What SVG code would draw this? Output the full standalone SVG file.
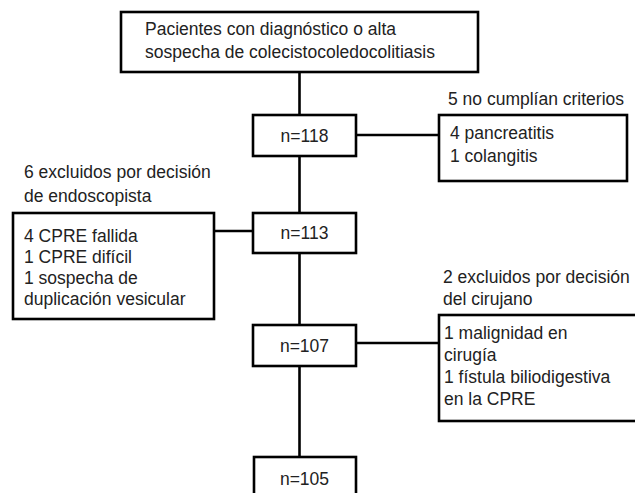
<svg xmlns="http://www.w3.org/2000/svg" width="635" height="493" viewBox="0 0 635 493">
<style>
.b{fill:#fff;stroke:#000;stroke-width:2.6}
.c{stroke:#000;stroke-width:2.6;fill:none}
text{font-family:"Liberation Sans",Arial,sans-serif;font-size:17.5px;fill:#222}
.m{text-anchor:middle}
</style>
<rect width="635" height="493" fill="#fff"/>
<g id="connectors">
<line class="c" x1="299.5" y1="72" x2="299.5" y2="457"/>
<line class="c" x1="356" y1="135" x2="439" y2="135"/>
<line class="c" x1="214" y1="231" x2="253" y2="231"/>
<line class="c" x1="356" y1="343" x2="439" y2="343"/>
</g>
<g id="top">
<rect class="b" x="121" y="12" width="357" height="60"/>
<text x="145" y="35">Pacientes con diagnóstico o alta</text>
<text x="145" y="58">sospecha de colecistocoledocolitiasis</text>
</g>
<g id="n118">
<rect class="b" x="253" y="115" width="103" height="41"/>
<text class="m" x="304.5" y="142">n=118</text>
</g>
<g id="excl1">
<text x="448" y="105">5 no cumplían criterios</text>
<rect class="b" x="439" y="115" width="188" height="66"/>
<text x="450" y="139">4 pancreatitis</text>
<text x="450" y="162">1 colangitis</text>
</g>
<g id="n113">
<rect class="b" x="253" y="213" width="103" height="40"/>
<text class="m" x="304.5" y="239">n=113</text>
</g>
<g id="excl2">
<text x="24" y="178">6 excluidos por decisión</text>
<text x="24" y="202">de endoscopista</text>
<rect class="b" x="13" y="213" width="201" height="106"/>
<text x="24" y="242">4 CPRE fallida</text>
<text x="24" y="263">1 CPRE difícil</text>
<text x="24" y="284">1 sospecha de</text>
<text x="24" y="305">duplicación vesicular</text>
</g>
<g id="n107">
<rect class="b" x="253" y="325" width="103" height="41"/>
<text class="m" x="304.5" y="352">n=107</text>
</g>
<g id="excl3">
<text x="443" y="283">2 excluidos por decisión</text>
<text x="443" y="305">del cirujano</text>
<rect class="b" x="439" y="315" width="210" height="106"/>
<text x="444" y="339">1 malignidad en</text>
<text x="444" y="361">cirugía</text>
<text x="444" y="383">1 fístula biliodigestiva</text>
<text x="444" y="405">en la CPRE</text>
</g>
<g id="n105">
<rect class="b" x="254" y="457" width="102" height="45"/>
<text class="m" x="304.5" y="485">n=105</text>
</g>
</svg>
